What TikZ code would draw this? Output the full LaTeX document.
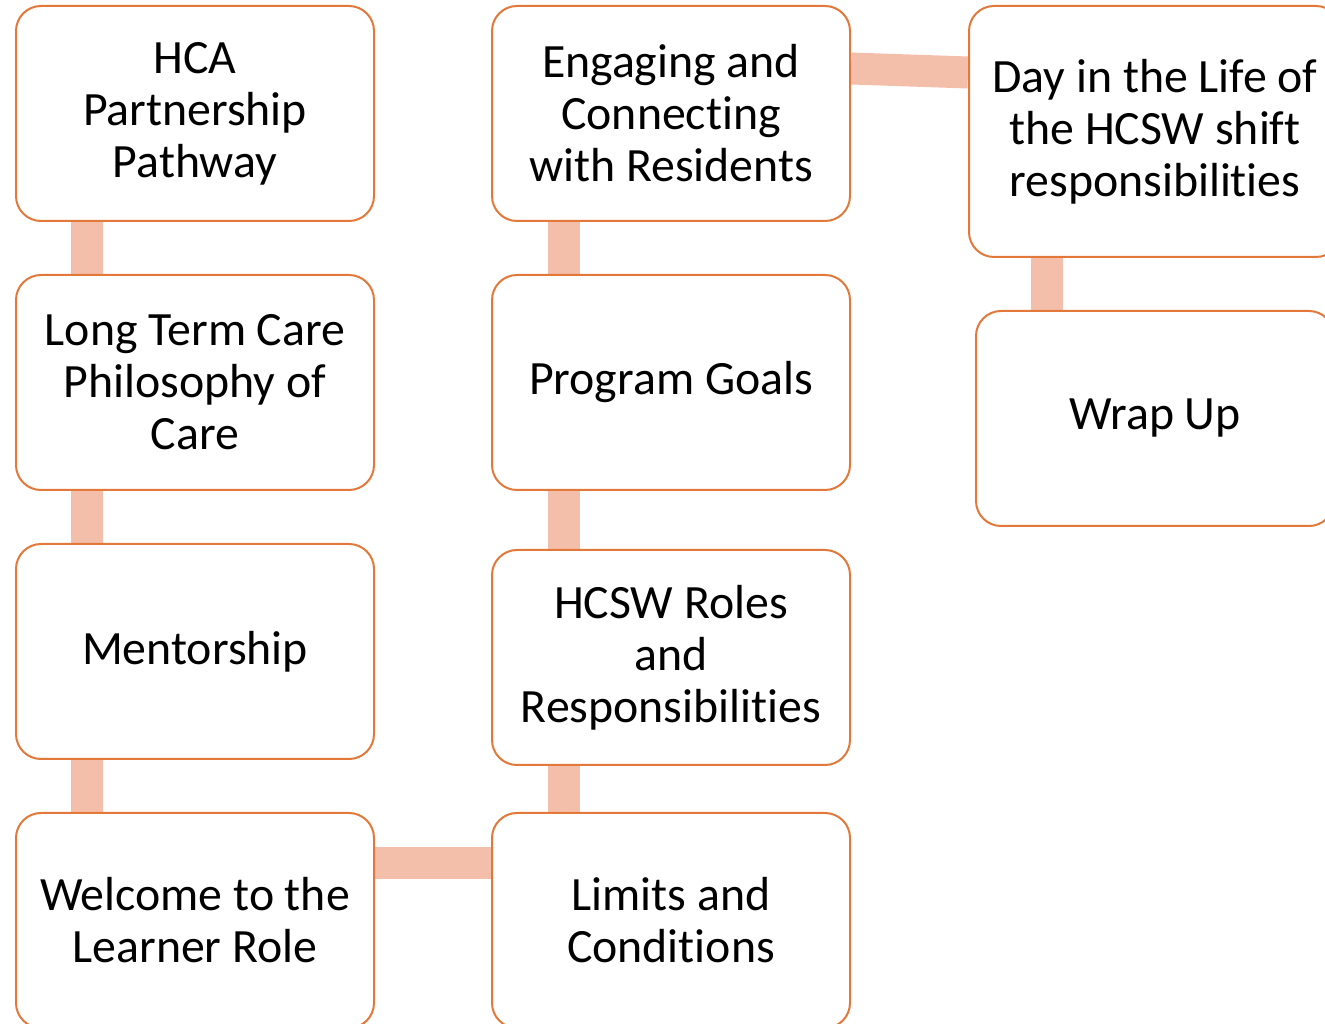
\documentclass[tikz,border=0pt]{standalone}
\usepackage{fontspec}
\setmainfont[Ligatures=NoCommon]{Carlito}
\usetikzlibrary{backgrounds}
\definecolor{boxline}{HTML}{E2793A}
\definecolor{connfill}{HTML}{F4BFAA}
\begin{document}
\begin{tikzpicture}[x=1pt,y=1pt,
  box/.style={draw=boxline, line width=2pt, rounded corners=25pt, fill=white,
    minimum width=358pt, minimum height=215pt, align=center, inner sep=0pt,
    font=\fontsize{47.8}{52}\selectfont},
  conn/.style={draw=connfill, line width=32pt}]
\useasboundingbox (0,0) rectangle (1325,1023);
\clip (0,0) rectangle (1325,1023);
% column 1
\node[box] (hca) at (195,909.5) {HCA\\Partnership\\Pathway};
\node[box] (ltc) at (195,640.5) {Long Term Care\\Philosophy of\\Care};
\node[box] (ment) at (195,371.5) {Mentorship};
\node[box] (welc) at (195,102.5) {Welcome to the\\Learner Role};
% column 2
\node[box] (eng) at (671,909.5) {Engaging and\\Connecting\\with Residents};
\node[box] (prog) at (671,640.5) {Program Goals};
\node[box] (hcsw) at (671,365.5) {HCSW Roles\\and\\Responsibilities};
\node[box] (lim) at (671,102.5) {Limits and\\Conditions};
% column 3
\node[box, minimum width=372pt, minimum height=251pt] (day) at (1155,891.5) {Day in the Life of\\the HCSW shift\\responsibilities};
\node[box, minimum width=358pt] (wrap) at (1155,604.5) {Wrap Up};
% connectors
\begin{pgfonlayer}{background}
\draw[conn] ([xshift=-108pt]hca.south) -- ([xshift=-108pt]ltc.north);
\draw[conn] ([xshift=-108pt]ltc.south) -- ([xshift=-108pt]ment.north);
\draw[conn] ([xshift=-108pt]ment.south) -- ([xshift=-108pt]welc.north);
\draw[conn] ([yshift=57pt]welc.east) -- ([yshift=57pt]lim.west);
\draw[conn] ([xshift=-107.5pt]lim.north) -- ([xshift=-107.5pt]hcsw.south);
\draw[conn] ([xshift=-107.5pt]hcsw.north) -- ([xshift=-107.5pt]prog.south);
\draw[conn] ([xshift=-107.5pt]prog.north) -- ([xshift=-107.5pt]eng.south);
\draw[conn] ([yshift=45pt]eng.east) -- ([yshift=59pt]day.west);
\draw[conn] ([xshift=-108pt]day.south) -- ([xshift=-108pt]wrap.north);
\end{pgfonlayer}
\end{tikzpicture}
\end{document}
